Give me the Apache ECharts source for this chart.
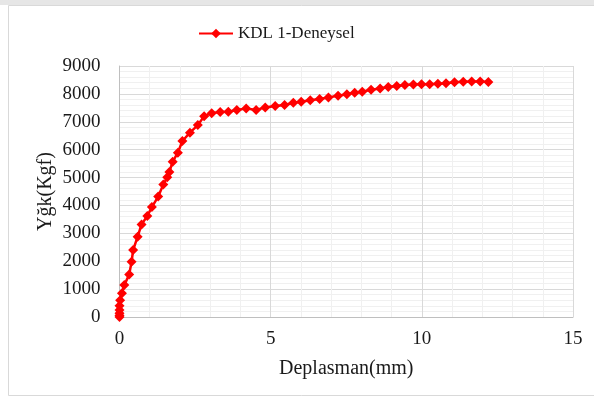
<!DOCTYPE html>
<html>
<head>
<meta charset="utf-8">
<script src="https://cdn.jsdelivr.net/npm/echarts@6/dist/echarts.min.js"></script>
<style>
  html, body { margin: 0; padding: 0; background: #fff; }
  #chart { width: 594px; height: 398px; }
</style>
</head>
<body>
<div id="chart"></div>
<script>
// Load–displacement test record for specimen KDL 1
const seriesName = 'KDL 1-Deneysel';
const displacementMm = [
  0, 0, 0, 0, 0, 0.02, 0.08, 0.16, 0.32, 0.40, 0.45, 0.60, 0.73, 0.92, 1.07,
  1.28, 1.45, 1.58, 1.65, 1.76, 1.93, 2.08, 2.33, 2.59, 2.80, 3.05, 3.33, 3.60,
  3.88, 4.19, 4.52, 4.82, 5.15, 5.46, 5.75, 6.01, 6.31, 6.62, 6.91, 7.23, 7.52,
  7.78, 8.03, 8.32, 8.62, 8.89, 9.17, 9.44, 9.72, 9.99, 10.26, 10.53, 10.80,
  11.08, 11.37, 11.65, 11.93, 12.20
];
const loadKgf = [
  0, 50, 130, 250, 400, 600, 850, 1150, 1520, 1980, 2400, 2880, 3320, 3620, 3940,
  4320, 4750, 5010, 5200, 5570, 5890, 6310, 6610, 6880, 7200, 7310, 7350, 7360,
  7420, 7480, 7420, 7515, 7565, 7600, 7680, 7715, 7775, 7815, 7875, 7930, 7990,
  8045, 8080, 8145, 8190, 8245, 8280, 8320, 8340, 8345, 8350, 8360, 8385,
  8420, 8435, 8448, 8448, 8425
];
const xTicks = [0, 5, 10, 15];
const yTicks = [0, 1000, 2000, 3000, 4000, 5000, 6000, 7000, 8000, 9000];

const font = '"Liberation Serif", "Times New Roman", serif';
const textColor = '#1a1a1a';
const points = displacementMm.map((x, i) => [x, loadKgf[i]]);

const chart = echarts.init(document.getElementById('chart'), null, { renderer: 'canvas' });
chart.setOption({
  backgroundColor: '#ffffff',
  animation: false,
  graphic: [
    { type: 'rect', shape: { x: 0, y: 0, width: 594, height: 5 }, style: { fill: '#e6e6e6' }, silent: true },
    { type: 'rect', shape: { x: 8.5, y: 5.5, width: 600, height: 390 }, style: { fill: 'none', stroke: '#d9d9d9', lineWidth: 1 }, silent: true }
  ],
  legend: {
    data: [seriesName],
    top: 20,
    left: 193,
    itemWidth: 34,
    itemHeight: 12,
    itemGap: 3,
    textStyle: { fontFamily: font, fontSize: 17, color: textColor }
  },
  grid: { left: 119.5, right: 21, top: 66, bottom: 81, containLabel: false },
  xAxis: {
    type: 'value',
    min: xTicks[0],
    max: xTicks[xTicks.length - 1],
    interval: 5,
    name: 'Deplasman(mm)',
    nameLocation: 'middle',
    nameGap: 42,
    nameMoveOverlap: false,
    nameTextStyle: { fontFamily: font, fontSize: 20, color: textColor },
    axisLine: { show: true, lineStyle: { color: '#bfbfbf', width: 1 } },
    axisTick: { show: false },
    axisLabel: { fontFamily: font, fontSize: 19, color: textColor, margin: 13 },
    splitLine: { show: true, lineStyle: { color: '#d9d9d9', width: 1 } },
    minorTick: { show: false, splitNumber: 5 },
    minorSplitLine: { show: true, lineStyle: { color: '#f0f0f0', width: 1 } }
  },
  yAxis: {
    type: 'value',
    min: yTicks[0],
    max: yTicks[yTicks.length - 1],
    interval: 1000,
    name: 'Yğk(Kgf)',
    nameLocation: 'middle',
    nameRotate: 90,
    nameGap: 64,
    nameMoveOverlap: false,
    nameTextStyle: { fontFamily: font, fontSize: 20, color: textColor },
    axisLine: { show: true, lineStyle: { color: '#bfbfbf', width: 1 } },
    axisTick: { show: false },
    axisLabel: {
      fontFamily: font, fontSize: 19, color: textColor, margin: 19,
      formatter: (v) => String(v)
    },
    splitLine: { show: true, lineStyle: { color: '#d9d9d9', width: 1 } },
    minorTick: { show: false, splitNumber: 5 },
    minorSplitLine: { show: true, lineStyle: { color: '#f0f0f0', width: 1 } }
  },
  series: [{
    name: seriesName,
    type: 'line',
    data: points,
    symbol: 'diamond',
    symbolSize: 10,
    showAllSymbol: true,
    color: '#ff0000',
    lineStyle: { color: '#ff0000', width: 2.5 },
    itemStyle: { color: '#ff0000' },
    clip: false
  }]
});
</script>
</body>
</html>
